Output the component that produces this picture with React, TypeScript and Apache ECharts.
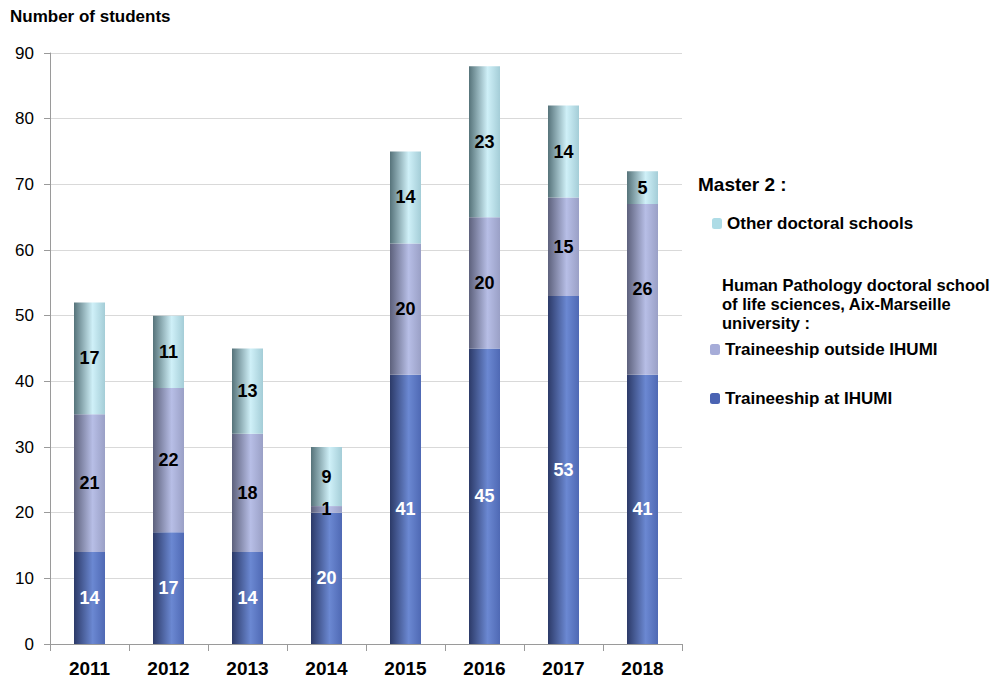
import React, { useEffect, useRef } from "react";
import * as echarts from "echarts";

const years = ["2011", "2012", "2013", "2014", "2015", "2016", "2017", "2018"];
const atIhumi = [14, 17, 14, 20, 41, 45, 53, 41];
const outsideIhumi = [21, 22, 18, 1, 20, 20, 15, 26];
const otherSchools = [17, 11, 13, 9, 14, 23, 14, 5];
const yTicks = { min: 0, max: 90, interval: 10 };

const FONT = "'Liberation Sans', Arial, sans-serif";

function grad(dark: string, light: string, edge: string) {
  return new echarts.graphic.LinearGradient(0, 0, 1, 0, [
    { offset: 0, color: dark },
    { offset: 0.6, color: light },
    { offset: 1, color: edge },
  ]);
}

export default function App() {
  const ref = useRef<HTMLDivElement>(null);
  useEffect(() => {
    const chart = echarts.init(ref.current!, null, { renderer: "svg" });
    const labelBase = { show: true, position: "inside", fontFamily: FONT, fontWeight: "bold", fontSize: 18 };
    const legendText = { fontFamily: FONT, fontWeight: "bold", fontSize: 17, color: "#000" };
    chart.setOption({
      animation: false,
      backgroundColor: "#ffffff",
      textStyle: { fontFamily: FONT },
      grid: { left: 50, right: 318, top: 53, bottom: 33 },
      xAxis: {
        type: "category",
        data: years,
        axisLine: { lineStyle: { color: "#9a9a9a", width: 1 } },
        axisTick: { show: true, length: 7, lineStyle: { color: "#9a9a9a" } },
        axisLabel: { color: "#000", fontFamily: FONT, fontWeight: "bold", fontSize: 19, margin: 15 },
      },
      yAxis: {
        type: "value",
        min: yTicks.min,
        max: yTicks.max,
        interval: yTicks.interval,
        axisLine: { show: true, lineStyle: { color: "#9a9a9a", width: 1 } },
        axisTick: { show: true, length: 6, lineStyle: { color: "#9a9a9a" } },
        splitLine: { lineStyle: { color: "#d9d9d9", width: 1 } },
        axisLabel: { color: "#000", fontFamily: FONT, fontSize: 17, margin: 16 },
      },
      legend: [
        {
          data: [{ name: "Other doctoral schools", itemStyle: { color: "#aedce6" } }],
          left: 712, top: 215, padding: 0, itemWidth: 10, itemHeight: 11, itemGap: 0,
          textStyle: legendText, selectedMode: false,
        },
        {
          data: [{ name: "Traineeship outside IHUMI", itemStyle: { color: "#a6acd8" } }],
          left: 710, top: 341, padding: 0, itemWidth: 10, itemHeight: 11, itemGap: 0,
          textStyle: legendText, selectedMode: false,
        },
        {
          data: [{ name: "Traineeship at IHUMI", itemStyle: { color: "#4a63b3" } }],
          left: 710, top: 390, padding: 0, itemWidth: 10, itemHeight: 11, itemGap: 0,
          textStyle: legendText, selectedMode: false,
        },
      ],
      graphic: [
        {
          type: "text", left: 10, top: 8,
          style: { text: "Number of students", font: `bold 17px ${FONT}`, fill: "#000" },
        },
        {
          type: "text", left: 698, top: 175,
          style: { text: "Master 2 :", font: `bold 19px ${FONT}`, fill: "#000" },
        },
        {
          type: "text", left: 722, top: 275,
          style: {
            text: "Human Pathology doctoral school\nof life sciences, Aix-Marseille\nuniversity :",
            font: `bold 16.5px ${FONT}`, lineHeight: 19, fill: "#000",
          },
        },
      ],
      series: [
        {
          name: "Traineeship at IHUMI",
          type: "bar", stack: "s", barWidth: 31,
          data: atIhumi,
          itemStyle: { color: grad("#2c3a68", "#6b88d2", "#4f69b4") },
          label: { ...labelBase, color: "#ffffff" },
        },
        {
          name: "Traineeship outside IHUMI",
          type: "bar", stack: "s", barWidth: 31,
          data: outsideIhumi,
          itemStyle: { color: grad("#5d617c", "#b7bee6", "#9aa0c6") },
          label: { ...labelBase, color: "#000000" },
        },
        {
          name: "Other doctoral schools",
          type: "bar", stack: "s", barWidth: 31,
          data: otherSchools,
          itemStyle: { color: grad("#56737a", "#cff0f8", "#a4cdd7") },
          label: { ...labelBase, color: "#000000" },
        },
      ],
    });
    return () => chart.dispose();
  }, []);
  return <div ref={ref} style={{ width: 1000, height: 678, position: "absolute", left: 0, top: 0 }} />;
}
